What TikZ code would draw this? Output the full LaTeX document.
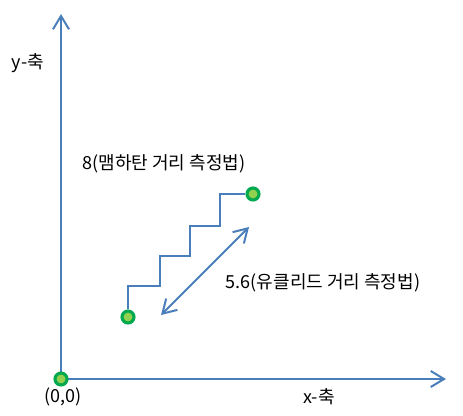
\documentclass[tikz,border=0pt]{standalone}
\usepackage{fontspec}
\setmainfont{Noto Sans CJK KR}
\usetikzlibrary{arrows.meta}
\definecolor{axisblue}{HTML}{4A7EBB}
\definecolor{dotring}{HTML}{00A84F}
\definecolor{dotfill}{HTML}{92D050}
\tikzset{
  line/.style={line width=1.5pt, color=axisblue},
  barb/.style={-{Straight Barb[length=10pt,width=12pt,line width=1.5pt]}},
  dot/.style={circle, draw=dotring, fill=dotfill, line width=2.3pt, minimum size=9pt, inner sep=0pt},
  label/.style={font=\fontsize{13.5}{15}\selectfont, inner sep=0pt}
}

\begin{document}
\begin{tikzpicture}[x=0.75pt, y=-0.75pt]
			%%%%% START %%%%%
			\useasboundingbox[fill=white] (0, 0) rectangle (463, 415);
			
			\coordinate (orig) at (61, 379);
			\coordinate (ytop) at (61, 14);
			\coordinate (xend) at (446, 379);
			\draw[line, barb] (orig) -- (ytop);
			\draw[line, barb] (orig) -- (xend);
			\node[dot] (O) at (orig) {};
			
			\node[dot] (A) at (128, 317) {};
			\node[dot] (B) at (253, 194) {};
			
			\draw[line] (A.north) |- (160, 286) |- (190, 256) |- (220, 226) |- (B.west);
			
			\coordinate (e1) at (161, 315);
			\coordinate (e2) at (249, 227);
			\draw[line, {Straight Barb[length=10pt,width=12pt,line width=1.5pt]}-{Straight Barb[length=10pt,width=12pt,line width=1.5pt]}] (e1) -- (e2);
			
			\node[label] (ylab) at (28, 63) {y-축};
			\node[label] (xlab) at (319, 397) {x-축};
			\node[label] (olab) at (63, 397) {(0,0)};
			\node[label] (manh) at (164, 164) {8(맴하탄 거리 측정법)};
			\node[label] (eucl) at (323, 283) {5.6(유클리드 거리 측정법)};
			%%%%% END %%%%%
\end{tikzpicture}
\end{document}
